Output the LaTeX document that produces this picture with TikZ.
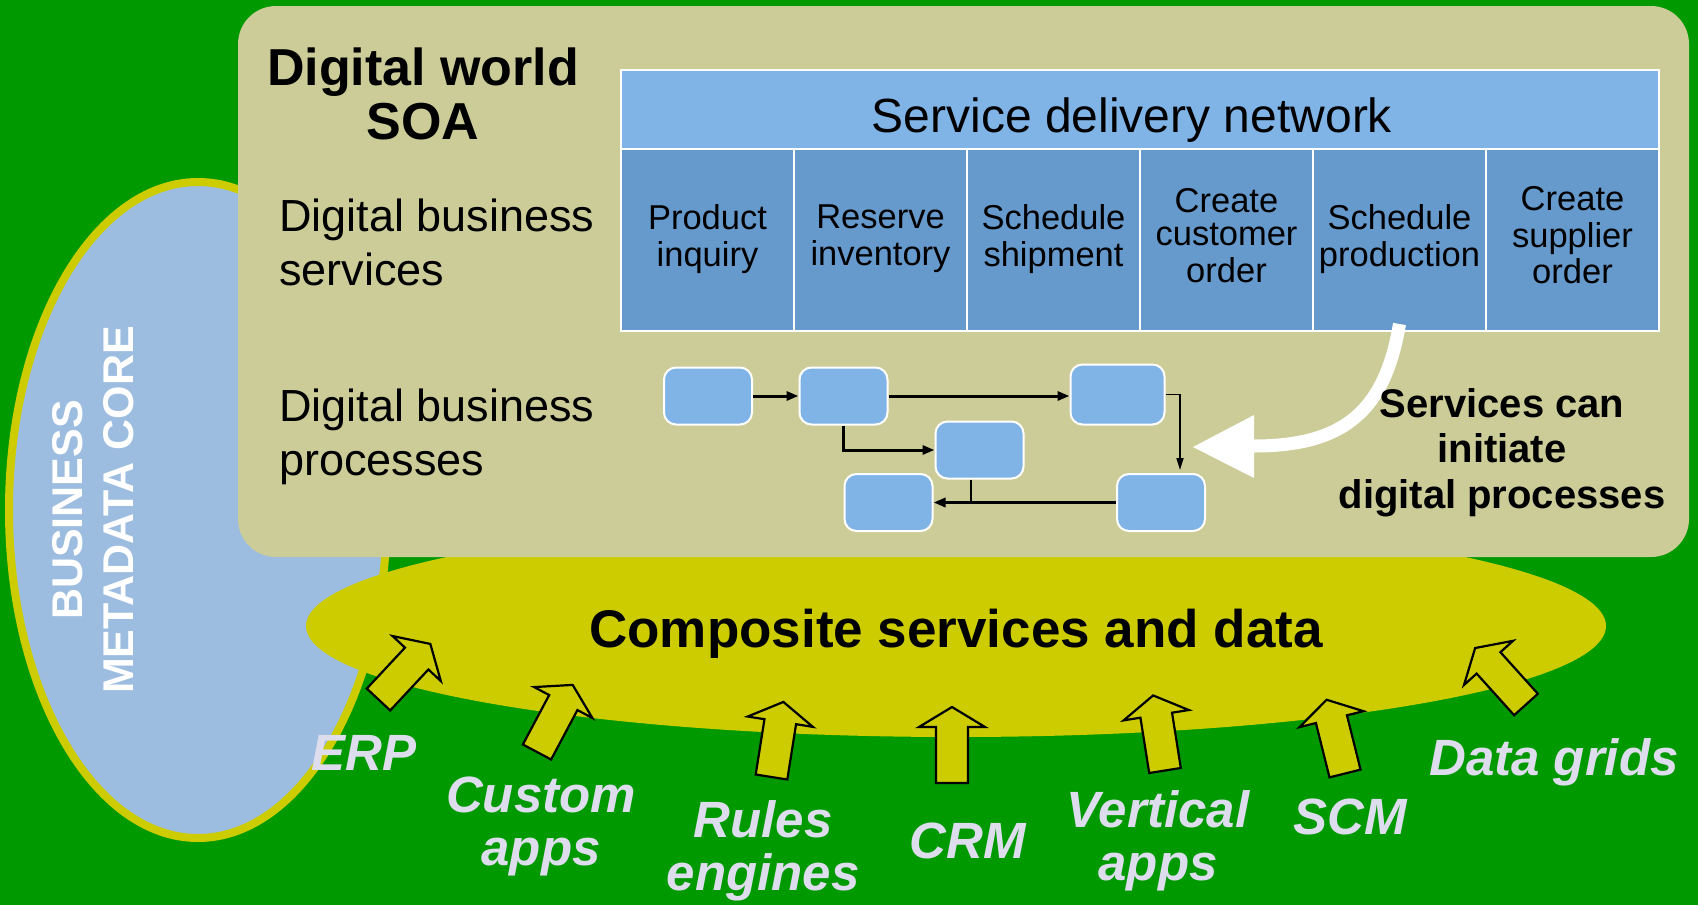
\documentclass[tikz,border=0pt]{standalone}
\usepackage{fontspec}
\setmainfont{Liberation Sans}
\usetikzlibrary{arrows.meta,calc}
\definecolor{bggreen}{HTML}{009900}
\definecolor{sdtan}{HTML}{CCCC99}
\definecolor{sdyellow}{HTML}{CCCC00}
\definecolor{coreblue}{HTML}{9DBDE0}
\definecolor{hdrblue}{HTML}{80B3E6}
\definecolor{cellblue}{HTML}{6699CC}
\definecolor{labelwhite}{HTML}{DDDDEE}
\newcommand{\myfs}[2]{\fontsize{#1}{#2}\selectfont}
\newcommand{\blockarrow}[3]{%
  \draw[blockarr, shift={(#1,#2)}, rotate=#3]
    (-16,0) -- (16,0) -- (16,-56) -- (33,-56) -- (0,-76) -- (-33,-56) -- (-16,-56) -- cycle;}
\begin{document}
\begin{tikzpicture}[x=0.5pt,y=-0.5pt,
  cellbox/.style={draw=white, line width=1pt, fill=cellblue, minimum width=86.5pt,
    minimum height=91pt, inner sep=0pt, align=center, font=\myfs{17.25pt}{16.5pt}},
  hdrbox/.style={draw=white, line width=1pt, fill=hdrblue, minimum width=519pt,
    minimum height=39.5pt, inner sep=0pt},
  procbox/.style={draw=white, line width=1pt, fill=hdrblue, rounded corners=6pt,
    minimum width=44pt, minimum height=28.5pt, inner sep=0pt},
  flowthick/.style={line width=1.5pt, -{Triangle[length=6pt,width=4.5pt]}},
  flowthin/.style={line width=0.8pt, -{Triangle[length=6pt,width=3.5pt]}},
  blockarr/.style={fill=sdyellow, draw=black, line width=1.1pt, line join=miter},
  lbl/.style={text=labelwhite, font=\bfseries\itshape\myfs{25.5pt}{26.5pt},
    align=center, anchor=base, inner sep=0pt},
  plain/.style={inner sep=0pt, text=black}
]
\useasboundingbox (0,0) rectangle (1698,905);
\fill[bggreen] (0,0) rectangle (1698,905);

% metadata core ellipse
\draw[fill=coreblue, draw=sdyellow, line width=4pt] (198,510) ellipse [x radius=94.5pt, y radius=164pt];
% composite services ellipse
\fill[sdyellow] (956,626) ellipse [x radius=325pt, y radius=55.5pt];
% digital world panel
\fill[sdtan, rounded corners=19pt] (238,6) rectangle (1689,557);

% service delivery network table
\node[hdrbox] (sdn) at (1140,109.5) {};
\node[cellbox] (c1) at (707.5,240) {\strut Product\\\strut inquiry};
\node[cellbox] (c2) at (880.5,240) {\strut Reserve\\\strut inventory};
\node[cellbox] (c3) at (1053.5,240) {\strut Schedule\\\strut shipment};
\node[cellbox] (c4) at (1226.5,240) {\strut Create\\\strut customer\\\strut order};
\node[cellbox] (c5) at (1399.5,240) {\strut Schedule\\\strut production};
\node[cellbox] (c6) at (1572.5,240) {\strut Create\\\strut supplier\\\strut order};
\node[plain, anchor=base, font=\myfs{24pt}{28pt}] (sdnlabel) at (1132,132) {Service delivery network};

% process boxes
\node[procbox] (b1) at (708,396) {};
\node[procbox] (b2) at (843.5,396) {};
\node[procbox, minimum width=47pt, minimum height=30pt] (b3) at (1117.5,394.5) {};
\node[procbox] (b4) at (979.5,450) {};
\node[procbox] (b5) at (888.5,502.5) {};
\node[procbox] (b6) at (1161,502.5) {};

\draw[flowthick] (b1.east) -- (b2.west);
\draw[flowthick] (b2.east) -- (b2.east -| b3.west);
\draw[flowthick] (b2.south) |- (b4.west);
\draw[flowthin, shorten >=1.5pt] (b3.east) -| ([xshift=9.5pt]b6.north);
\draw[flowthick] (b6.west) -- (b5.east);
\draw[line width=1pt] ([xshift=-4.5pt]b4.south) -- ([xshift=-4.5pt]b4.south |- b6.west);

% big white arrow
\coordinate (watip) at (1193,447);
\coordinate (wabase) at (1254,446);
\draw[white, line width=6.5pt] ([yshift=4pt]c5.south) .. controls (1385,410) and (1345,446) .. (wabase);
\fill[white] (watip) -- (1254,415) -- (1254,478) -- cycle;

% texts in panel (base anchor = last line's baseline)
\node[plain, anchor=base, align=center, font=\bfseries\myfs{26pt}{26.8pt}] (title) at (423,139) {Digital world\\SOA};
\node[plain, anchor=base west, align=left, font=\myfs{22.5pt}{27pt}] (dbs) at (279,285.7) {Digital business\\services};
\node[plain, anchor=base west, align=left, font=\myfs{22.5pt}{27pt}] (dbp) at (279,475) {Digital business\\processes};
\node[plain, anchor=base, align=center, font=\bfseries\myfs{20pt}{22.75pt}] (svc) at (1502,508) {Services can\\initiate\\digital processes};

\node[plain, anchor=base, font=\bfseries\myfs{26.5pt}{30pt}] (comp) at (956,647) {Composite services and data};
\node[inner sep=0pt, rotate=90, align=center, text=white, font=\bfseries\myfs{21.5pt}{25.5pt}] (core) at (93,510) {BUSINESS\\METADATA CORE};

% block arrows
\blockarrow{378.5}{699.5}{-43}
\blockarrow{537}{752}{-28}
\blockarrow{771.5}{777}{-9}
\blockarrow{952}{783}{0}
\blockarrow{1165}{770.5}{9}
\blockarrow{1345}{773.5}{14}
\blockarrow{1526}{704.5}{42}

% source labels
\node[lbl] (erp) at (364,770) {ERP};
\node[lbl] (cust) at (541,865) {Custom\\apps};
\node[lbl] (rules) at (763,890) {Rules\\engines};
\node[lbl] (crm) at (968,858) {CRM};
\node[lbl] (vert) at (1158,880) {Vertical\\apps};
\node[lbl] (scm) at (1350,834) {SCM};
\node[lbl] (grids) at (1554,775) {Data grids};
\end{tikzpicture}
\end{document}
